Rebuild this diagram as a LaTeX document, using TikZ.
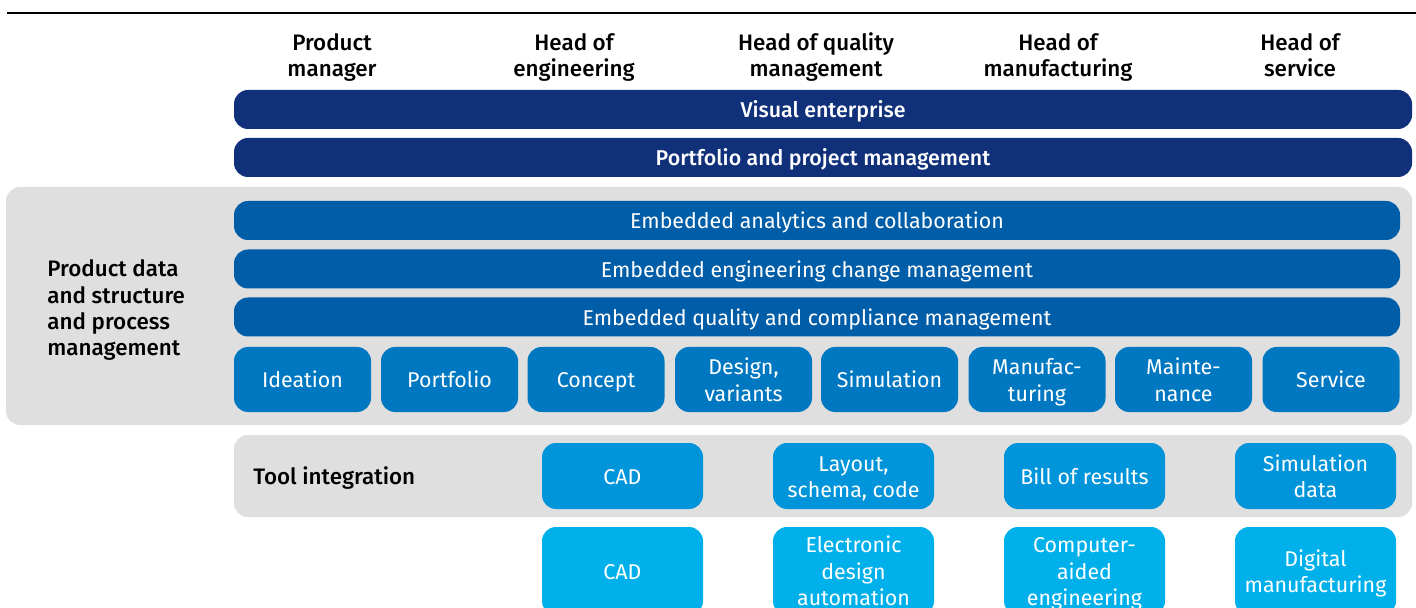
\documentclass[tikz,border=0pt]{standalone}
\usepackage{fontspec}
\setmainfont{Fira Sans}[BoldFont={Fira Sans Medium}]
\definecolor{navy}{HTML}{10317A}
\definecolor{midblue}{HTML}{005DA8}
\definecolor{stepblue}{HTML}{0078C1}
\definecolor{toolblue}{HTML}{0095DA}
\definecolor{skyblue}{HTML}{00B0EA}
\definecolor{panelgray}{HTML}{DFDFDF}
\tikzset{
  lines/.style={execute at begin node={\rule{0pt}{\dimexpr12.3pt+\baselineskip*\numexpr#1-1\relax\relax}},
                execute at end node={\rule[-4pt]{0pt}{4pt}}},
  lines/.default=1,
  boxtext/.style={lines, text=white, align=center, inner sep=0pt, font=\fontsize{10.7}{13.3}\selectfont},
  bar/.style={boxtext, fill=#1, rounded corners=7pt, minimum height=19.5pt},
  stepbox/.style={boxtext, fill=stepblue, rounded corners=7pt, minimum width=68.5pt, minimum height=32.5pt},
  toolbox/.style={boxtext, fill=#1, rounded corners=7pt, minimum width=80.5pt},
  head/.style={align=center, inner sep=0pt, font=\fontsize{11.2}{13.2}\selectfont\bfseries},
  role/.style={head, lines=2},
}
\begin{document}
\begin{tikzpicture}[x=0.5pt, y=-0.5pt]
\useasboundingbox (0,0) rectangle (1416,608);
\clip (0,0) rectangle (1416,608);
\draw[line width=0.75pt] (7,13) -- (1416,13);
% roles
\node[role] (pm)   at (332,55)  {Product\\manager};
\node[role] (eng)  at (574,55)  {Head of\\engineering};
\node[role] (qm)   at (816,55)  {Head of quality\\management};
\node[role] (mfg)  at (1058,55) {Head of\\manufacturing};
\node[role] (srv)  at (1300,55) {Head of\\service};
\node[bar=navy, minimum width=589pt, font=\fontsize{10.7}{13}\selectfont\bfseries] (visual) at (823,109.5) {Visual enterprise};
\node[bar=navy, minimum width=589pt, font=\fontsize{10.7}{13}\selectfont\bfseries] (ppm) at (823,157.5) {Portfolio and project management};
% product data panel
\fill[panelgray, rounded corners=7pt] (6,187) rectangle (1412,425);
\node[head, lines=4, align=left, anchor=west] (pdata) at (47,308) {Product data\\and structure\\and process\\management};
\node[bar=midblue, minimum width=583pt] (analytics) at (817,220.5) {Embedded analytics and collaboration};
\node[bar=midblue, minimum width=583pt] (change) at (817,269) {Embedded engineering change management};
\node[bar=midblue, minimum width=583pt] (quality) at (817,317) {Embedded quality and compliance management};
\node[stepbox] (ideation)  at (302.5,379.5)  {Ideation};
\node[stepbox] (portfolio) at (449.5,379.5)  {Portfolio};
\node[stepbox] (concept)   at (596,379.5)    {Concept};
\node[stepbox, lines=2] (design) at (743.5,379.5)  {Design,\\variants};
\node[stepbox] (sim)       at (889.5,379.5)  {Simulation};
\node[stepbox, lines=2] (manuf)  at (1037,379.5)   {Manufac-\\turing};
\node[stepbox, lines=2] (maint)  at (1183.5,379.5) {Mainte-\\nance};
\node[stepbox] (service)   at (1331,379.5)   {Service};
% tool integration
\fill[panelgray, rounded corners=7pt] (234,435) rectangle (1412,517);
\node[head, lines, anchor=west] (tools) at (253,476) {Tool integration};
\node[toolbox=toolblue, minimum height=33pt] (cad)    at (622.5,476)  {CAD};
\node[toolbox=toolblue, minimum height=33pt, lines=2] (layout) at (853.5,476)  {Layout,\\schema, code};
\node[toolbox=toolblue, minimum height=33pt] (bom)    at (1084.5,476) {Bill of results};
\node[toolbox=toolblue, minimum height=33pt, lines=2] (simdat) at (1315.5,476) {Simulation\\data};
\node[toolbox=skyblue, minimum height=44pt] (cad2)  at (622.5,571)  {CAD};
\node[toolbox=skyblue, minimum height=44pt, lines=3] (eda)   at (853.5,571)  {Electronic\\design\\automation};
\node[toolbox=skyblue, minimum height=44pt, lines=3] (cae)   at (1084.5,571) {Computer-\\aided\\engineering};
\node[toolbox=skyblue, minimum height=44pt, lines=2] (digm)  at (1315.5,571) {Digital\\manufacturing};
\end{tikzpicture}
\end{document}
